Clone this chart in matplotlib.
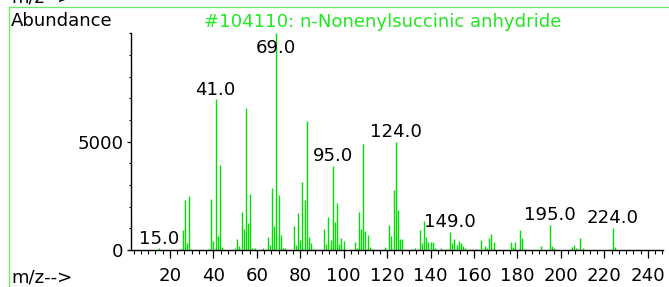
import matplotlib
matplotlib.use("Agg")
import matplotlib.pyplot as plt
from matplotlib.lines import Line2D
import numpy as np

plt.rcParams['font.family'] = ['DejaVu Sans']

# ---- data ----
mz = [15, 25, 26, 27, 28, 29, 38, 39, 40, 41, 42, 43, 44,
      50, 51, 52, 53, 54, 55, 56, 57, 58, 59, 63, 65, 66, 67, 68, 69, 70, 71, 72, 73,
      77, 78, 79, 80, 81, 82, 83, 84, 85, 86, 87, 91, 92, 93, 94, 95, 96, 97, 98, 99, 100,
      105, 106, 107, 108, 109, 110, 111, 112, 113, 119, 121, 122, 123, 124, 125, 126, 127,
      131, 133, 135, 136, 137, 138, 139, 140, 141, 142, 145, 147,
      149, 150, 151, 152, 153, 154, 155, 156, 159, 161, 163, 165, 166, 167, 168, 169,
      177, 178, 179, 181, 182, 183, 191, 195, 196, 197, 205, 206, 207, 209, 210, 224, 225]
abundance = [80, 50, 900, 2310, 310, 2510, 60, 2340, 415, 6960, 645, 3910, 150,
             100, 490, 200, 1740, 980, 6540, 1230, 2590, 100, 80, 110, 585, 240, 2840, 1110, 10000, 2525, 690, 80, 80,
             1110, 220, 1725, 450, 3130, 2330, 5970, 615, 300, 60, 60, 955, 270, 1525, 470, 3880, 1290, 2170, 260, 540, 430,
             370, 80, 1770, 970, 4890, 870, 680, 130, 60, 150, 1155, 650, 2780, 4990, 1850, 490, 490,
             60, 80, 920, 340, 1330, 600, 385, 380, 370, 80, 80, 60,
             830, 330, 500, 240, 410, 310, 170, 80, 40, 60, 460, 185, 100, 555, 730, 355,
             375, 135, 360, 920, 555, 60, 185, 1155, 185, 90, 120, 230, 80, 555, 90, 1030, 140]
labeled_mz = [15, 41, 69, 95, 124, 149, 195, 224]
xticks = [20, 40, 60, 80, 100, 120, 140, 160, 180, 200, 220, 240]
yticks = [0, 5000]
title = "#104110: n-Nonenylsuccinic anhydride"

W, H = 669, 287
fig = plt.figure(figsize=(W / 100, H / 100), dpi=100)
fig.patch.set_facecolor('white')

ax_l, ax_r, ax_b, ax_t = 131, 663, 250, 33.3
ax = fig.add_axes([ax_l / W, (H - ax_b) / H, (ax_r - ax_l) / W, (ax_b - ax_t) / H])
ax.set_xlim(2.1, 247.0)
ax.set_ylim(0, 10000)

bar_color = '#00e000'
ax.vlines(mz, 0, abundance, colors=bar_color, linewidth=1.0)

fs = 13.1
lookup = dict(zip(mz, abundance))
for m in labeled_mz:
    y = min(lookup[m] + 215, 9080)
    ax.text(m, y, f"{m:.1f}", ha='center', va='baseline', fontsize=fs, color='black')

for s in ['top', 'right']:
    ax.spines[s].set_visible(False)
for s in ['left', 'bottom']:
    ax.spines[s].set_linewidth(1.0)
    ax.spines[s].set_color('black')

ax.set_xticks(xticks)
ax.set_xticklabels([str(t) for t in xticks])
ax.set_xticks(np.arange(20 - 5 * 20 / 6, 247, 20 / 6), minor=True)
ax.set_yticks(yticks)
ax.set_yticklabels([str(t) for t in yticks])
ax.set_yticks(np.arange(0, 10001, 1000), minor=True)
ax.tick_params(axis='x', which='major', direction='out', length=5.5, width=0.9, pad=7.0, labelsize=fs)
ax.tick_params(axis='x', which='minor', direction='out', length=3.2, width=0.8)
ax.tick_params(axis='y', which='major', direction='out', length=3.0, width=0.9, pad=2.6, labelsize=fs)
ax.tick_params(axis='y', which='minor', direction='out', length=1.5, width=0.8)
ax.patch.set_alpha(0)

# texts
fig.text(383 / W, 1 - 26.7 / H, title, color='#22e822', fontsize=fs, ha='center', va='baseline')
fig.text(11 / W, 1 - 26 / H, "Abundance", color='black', fontsize=fs, ha='left', va='baseline')
fig.text(11 / W, 1 - 283 / H, "m/z-->", color='black', fontsize=fs, ha='left', va='baseline')
fig.text(11.5 / W, 1 - 2.5 / H, "m/z-->", color='black', fontsize=fs, ha='left', va='baseline')

# green frame lines
fig.add_artist(Line2D([9.4 / W, 9.4 / W], [0, 1 - 7.3 / H], transform=fig.transFigure,
                      color='#66ee66', linewidth=0.9))
fig.add_artist(Line2D([9.4 / W, 1], [1 - 7.3 / H, 1 - 7.3 / H], transform=fig.transFigure,
                      color='#66ee66', linewidth=0.9))

fig.savefig('out.png', dpi=100)
